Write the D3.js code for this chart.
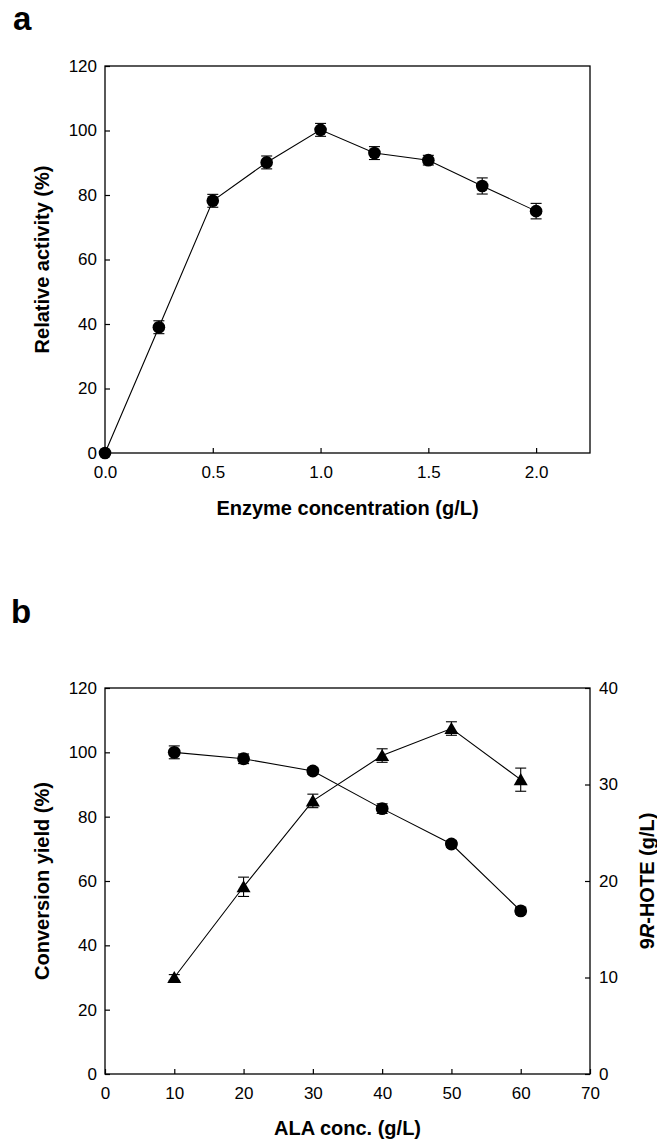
<!DOCTYPE html>
<html>
<head>
<meta charset="utf-8">
<script src="https://cdn.jsdelivr.net/npm/d3@7"></script>
<style>
  body { margin: 0; background: #fff; }
  svg { display: block; font-family: "Liberation Sans", Arial, sans-serif; }
  .tick text { font-size: 17px; fill: #000; }
  .axis-title { font-size: 20px; font-weight: bold; }
  .panel-letter { font-size: 33px; font-weight: bold; }
</style>
</head>
<body>
<div id="chart"></div>
<script>
// data, panel a
const ENZYME_CONC = [0, 0.25, 0.5, 0.75, 1.0, 1.25, 1.5, 1.75, 2.0];
const REL_ACTIVITY = [0, 39, 78.2, 90.1, 100.2, 93, 90.8, 82.8, 75];
const REL_ACTIVITY_ERR = [0, 2, 2, 2, 2, 2, 1.5, 2.5, 2.4];
const A_X_TICKS = [0, 0.5, 1.0, 1.5, 2.0];
const A_Y_TICKS = [0, 20, 40, 60, 80, 100, 120];

// data, panel b
const ALA_CONC = [10, 20, 30, 40, 50, 60];
const CONV_YIELD = [100, 98, 94.2, 82.5, 71.5, 50.7];
const CONV_YIELD_ERR = [2, 1.5, 1, 1.5, 1, 1];
const HOTE = [10, 19.4, 28.3, 33, 35.8, 30.5];
const HOTE_ERR = [0.3, 1, 0.7, 0.7, 0.7, 1.2];
const B_X_TICKS = [0, 10, 20, 30, 40, 50, 60, 70];
const B_Y_TICKS = [0, 20, 40, 60, 80, 100, 120];
const B_Y2_TICKS = [0, 10, 20, 30, 40];

// frame
const WIDTH = 657;
const HEIGHT = 1141;
const PLOT_LEFT = 105;
const PLOT_RIGHT = 590;
const A_TOP = 66, A_BOTTOM = 453;
const B_TOP = 688, B_BOTTOM = 1074;
const TICK = 5;
const CAP = 5.5;

const svg = d3.select("#chart")
  .append("svg")
    .attr("width", WIDTH)
    .attr("height", HEIGHT);

// draws axes + frame box for one panel
function drawFrame(x, y, xTicks, xFmt, yTicks, top, bottom) {
  svg.append("g")
      .attr("transform", `translate(0,${bottom})`)
      .call(d3.axisBottom(x).tickValues(xTicks).tickFormat(xFmt)
              .tickSizeInner(-TICK).tickSizeOuter(0).tickPadding(13));

  svg.append("g")
      .attr("transform", `translate(${PLOT_LEFT},0)`)
      .call(d3.axisLeft(y).tickValues(yTicks).tickFormat(d3.format("d"))
              .tickSizeInner(-TICK).tickSizeOuter(0).tickPadding(8));

  svg.selectAll(".domain").remove();
  svg.selectAll(".tick line").attr("stroke", "#000").attr("stroke-width", 1.2);

  svg.append("rect")
      .attr("x", PLOT_LEFT)
      .attr("y", top)
      .attr("width", PLOT_RIGHT - PLOT_LEFT)
      .attr("height", bottom - top)
      .attr("fill", "none")
      .attr("stroke", "#000")
      .attr("stroke-width", 1.3);
}

// line + error bars + markers
function drawSeries(xs, ys, errs, x, y, symbol, size) {
  const line = d3.line()
    .x((d, i) => x(xs[i]))
    .y((d) => y(d));

  svg.append("path")
      .datum(ys)
      .attr("d", line)
      .attr("fill", "none")
      .attr("stroke", "#000")
      .attr("stroke-width", 1.1);

  const pts = ys.map((d, i) => ({x: xs[i], y: d, e: errs[i]}))
                .filter((p) => p.e > 0);

  const bars = svg.append("g")
    .attr("stroke", "#000")
    .attr("stroke-width", 1.1)
    .selectAll("g")
    .data(pts)
    .enter()
    .append("g");

  bars.append("line")
      .attr("x1", (p) => x(p.x)).attr("x2", (p) => x(p.x))
      .attr("y1", (p) => y(p.y - p.e)).attr("y2", (p) => y(p.y + p.e));
  bars.append("line")
      .attr("x1", (p) => x(p.x) - CAP).attr("x2", (p) => x(p.x) + CAP)
      .attr("y1", (p) => y(p.y - p.e)).attr("y2", (p) => y(p.y - p.e));
  bars.append("line")
      .attr("x1", (p) => x(p.x) - CAP).attr("x2", (p) => x(p.x) + CAP)
      .attr("y1", (p) => y(p.y + p.e)).attr("y2", (p) => y(p.y + p.e));

  svg.append("g")
    .selectAll("path")
    .data(ys)
    .enter()
    .append("path")
      .attr("d", d3.symbol().type(symbol).size(size))
      .attr("transform", (d, i) => {
        // shift triangle so its centre sits on the value
        const dy = symbol === d3.symbolTriangle ? 1.5 : 0;
        return `translate(${x(xs[i])},${y(d) + dy})`;
      })
      .attr("fill", "#000");
}

// ---------- panel a ----------
const xA = d3.scaleLinear().domain([0, 2.25]).range([PLOT_LEFT, PLOT_RIGHT]);
const yA = d3.scaleLinear().domain([0, 120]).range([A_BOTTOM, A_TOP]);

drawFrame(xA, yA, A_X_TICKS, d3.format(".1f"), A_Y_TICKS, A_TOP, A_BOTTOM);
drawSeries(ENZYME_CONC, REL_ACTIVITY, REL_ACTIVITY_ERR, xA, yA, d3.symbolCircle, 125);

svg.append("text")
    .attr("class", "panel-letter")
    .attr("x", 13)
    .attr("y", 30)
    .text("a");

svg.append("text")
    .attr("class", "axis-title")
    .attr("text-anchor", "middle")
    .attr("x", (PLOT_LEFT + PLOT_RIGHT) / 2)
    .attr("y", A_BOTTOM + 62)
    .text("Enzyme concentration (g/L)");

svg.append("text")
    .attr("class", "axis-title")
    .attr("text-anchor", "middle")
    .attr("transform", `translate(49,${(A_TOP + A_BOTTOM) / 2}) rotate(-90)`)
    .text("Relative activity (%)");

// ---------- panel b ----------
const xB = d3.scaleLinear().domain([0, 70]).range([PLOT_LEFT, PLOT_RIGHT]);
const yB = d3.scaleLinear().domain([0, 120]).range([B_BOTTOM, B_TOP]);
const yB2 = d3.scaleLinear().domain([0, 40]).range([B_BOTTOM, B_TOP]);

drawFrame(xB, yB, B_X_TICKS, d3.format("d"), B_Y_TICKS, B_TOP, B_BOTTOM);

svg.append("g")
    .attr("transform", `translate(${PLOT_RIGHT},0)`)
    .call(d3.axisRight(yB2).tickValues(B_Y2_TICKS).tickFormat(d3.format("d"))
            .tickSizeInner(-TICK).tickSizeOuter(0).tickPadding(9))
    .call((g) => g.select(".domain").remove())
    .call((g) => g.selectAll(".tick line").attr("stroke", "#000").attr("stroke-width", 1.2));

drawSeries(ALA_CONC, CONV_YIELD, CONV_YIELD_ERR, xB, yB, d3.symbolCircle, 130);
drawSeries(ALA_CONC, HOTE, HOTE_ERR, xB, yB2, d3.symbolTriangle, 85);

svg.append("text")
    .attr("class", "panel-letter")
    .attr("x", 11)
    .attr("y", 623)
    .text("b");

svg.append("text")
    .attr("class", "axis-title")
    .attr("text-anchor", "middle")
    .attr("x", (PLOT_LEFT + PLOT_RIGHT) / 2)
    .attr("y", B_BOTTOM + 61)
    .text("ALA conc. (g/L)");

svg.append("text")
    .attr("class", "axis-title")
    .attr("text-anchor", "middle")
    .attr("transform", `translate(49,${(B_TOP + B_BOTTOM) / 2}) rotate(-90)`)
    .text("Conversion yield (%)");

const rightTitle = svg.append("text")
    .attr("class", "axis-title")
    .attr("text-anchor", "middle")
    .attr("transform", `translate(654,${(B_TOP + B_BOTTOM) / 2}) rotate(-90)`);
rightTitle.append("tspan").text("9");
rightTitle.append("tspan").attr("font-style", "italic").text("R");
rightTitle.append("tspan").text("-HOTE (g/L)");
</script>
</body>
</html>
